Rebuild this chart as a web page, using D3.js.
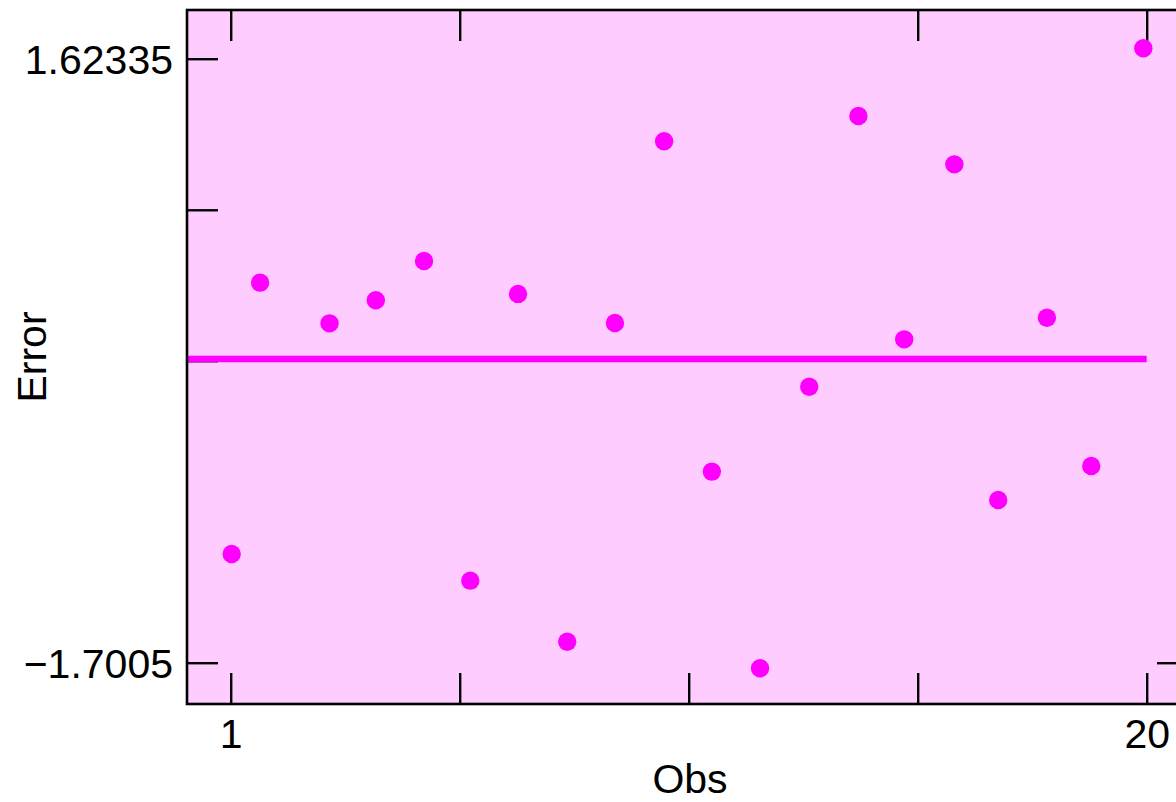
<!DOCTYPE html>
<html>
<head>
<meta charset="utf-8">
<script src="https://cdn.jsdelivr.net/npm/d3@7"></script>
<style>
  html, body { margin: 0; padding: 0; background: #fff; }
  svg text { font-family: "Liberation Sans", Arial, Helvetica, sans-serif; fill: #000; }
</style>
</head>
<body>
<svg id="chart" width="1176" height="802"></svg>
<script>
var obs = [1.02, 1.61, 3.05, 4.01, 5.01, 5.97, 6.96, 7.98, 8.97, 9.99,
           10.98, 11.98, 13.0, 14.02, 14.97, 16.01, 16.92, 17.93, 18.85, 19.93];
var errors = [-1.102, 0.391, 0.167, 0.294, 0.510, -1.249, 0.329, -1.585, 0.169, 1.169,
              -0.649, -1.731, -0.182, 1.308, 0.079, 1.042, -0.805, 0.198, -0.618, 1.681];

var xTicks = [1, 5.75, 10.5, 15.25, 20];
var xTickLabels = ["1", "", "", "", "20"];
var xTopTicks = [1, 5.75, 15.25, 20];
var yTicks = [-1.7005, -0.038875, 0.791938, 1.62335];
var yTickLabels = ["\u22121.7005", "", "", "1.62335"];
var yRightTicks = [-1.7005];

var svg = d3.select("#chart");

// frame of the plot (right edge runs past the picture)
var frame = { left: 187, top: 10, right: 1188, bottom: 704 };
var tickLen = 31;

var x = d3.scaleLinear().domain([1, 20]).range([230.7, 1146.7]);
var y = d3.scaleLinear().domain([-1.7005, 1.62335]).range([662.7, 58.7]);

svg.append("rect")
  .attr("x", frame.left).attr("y", frame.top)
  .attr("width", frame.right - frame.left)
  .attr("height", frame.bottom - frame.top)
  .attr("fill", "#ffccff");

var styleAxis = function (g) {
  g.select(".domain").remove();
  g.selectAll(".tick line").attr("stroke", "#000").attr("stroke-width", 2.4);
  g.selectAll(".tick text").attr("font-size", 41).attr("fill", "#000");
};

// bottom axis, ticks point inward
svg.append("g")
  .attr("transform", "translate(0," + frame.bottom + ")")
  .call(d3.axisBottom(x).tickValues(xTicks)
    .tickFormat(function (d, i) { return xTickLabels[i]; })
    .tickSizeInner(-tickLen).tickSizeOuter(0).tickPadding(12))
  .call(styleAxis)
  .selectAll(".tick text").attr("dy", "0.72em").attr("y", 14);

svg.append("g")
  .attr("transform", "translate(0," + frame.top + ")")
  .call(d3.axisTop(x).tickValues(xTopTicks).tickFormat("")
    .tickSizeInner(-tickLen).tickSizeOuter(0))
  .call(styleAxis);

svg.append("g")
  .attr("transform", "translate(" + frame.left + ",0)")
  .call(d3.axisLeft(y).tickValues(yTicks)
    .tickFormat(function (d, i) { return yTickLabels[i]; })
    .tickSizeInner(-tickLen).tickSizeOuter(0).tickPadding(14))
  .call(styleAxis)
  .selectAll(".tick text").attr("x", -14).attr("dy", "0.36em");

svg.append("g")
  .attr("transform", "translate(" + frame.right + ",0)")
  .call(d3.axisRight(y).tickValues(yRightTicks).tickFormat("")
    .tickSizeInner(-tickLen).tickSizeOuter(0))
  .call(styleAxis);

// mean error line, from left frame to the last obs
var meanErr = d3.mean(errors);
svg.append("line")
  .attr("x1", frame.left).attr("x2", x(20))
  .attr("y1", y(meanErr)).attr("y2", y(meanErr))
  .attr("stroke", "#ff00ff").attr("stroke-width", 6.5);

svg.append("g").selectAll("circle")
  .data(obs)
  .enter().append("circle")
  .attr("cx", function (d) { return x(d); })
  .attr("cy", function (d, i) { return y(errors[i]); })
  .attr("r", 9.2)
  .attr("fill", "#ff00ff");

svg.append("rect")
  .attr("x", frame.left).attr("y", frame.top)
  .attr("width", frame.right - frame.left)
  .attr("height", frame.bottom - frame.top)
  .attr("fill", "none").attr("stroke", "#000").attr("stroke-width", 2.6);

svg.append("text")
  .attr("x", 690).attr("y", 793)
  .attr("text-anchor", "middle").attr("font-size", 41)
  .text("Obs");

svg.append("text")
  .attr("transform", "translate(46,357) rotate(-90)")
  .attr("text-anchor", "middle").attr("font-size", 41)
  .text("Error");
</script>
</body>
</html>
